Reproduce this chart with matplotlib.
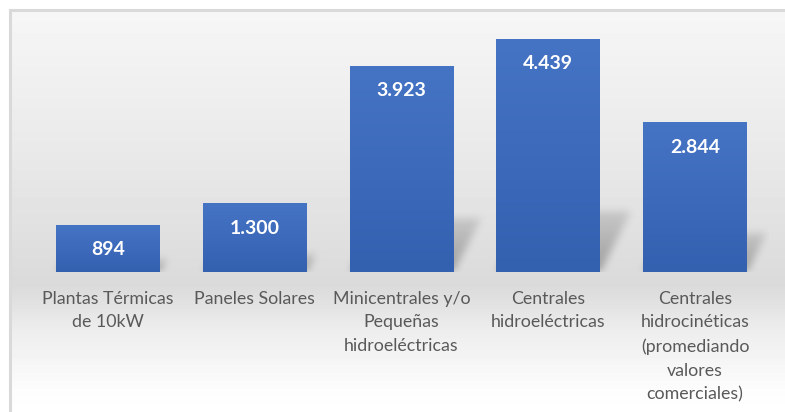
import matplotlib
matplotlib.use("Agg")
import matplotlib.pyplot as plt
import numpy as np
from matplotlib.colors import LinearSegmentedColormap
from matplotlib.patches import Rectangle

# datos
categorias = ["Plantas Térmicas\nde 10kW", "Paneles Solares",
              "Minicentrales y/o\nPequeñas\nhidroeléctricas",
              "Centrales\nhidroeléctricas",
              "Centrales\nhidrocinéticas\n(promediando\nvalores\ncomerciales)"]
valores = [894, 1300, 3923, 4439, 2844]
etiquetas = ["894", "1.300", "3.923", "4.439", "2.844"]

plt.rcParams['font.family'] = ['Lato', 'DejaVu Sans']

W, H = 785, 412
fig = plt.figure(figsize=(W / 100, H / 100), dpi=100)

# fondo con degradado
bg = fig.add_axes([12 / W, 0, 1 - 12 / W, 402 / H])
bg.set_axis_off()
rows = np.arange(402) + 10
gris = np.interp(rows, [10, 150, 285, 330, 390, 412], [0.965, 0.915, 0.855, 0.93, 0.99, 1.0])
bg.imshow(gris[:, None], cmap='gray', vmin=0, vmax=1, aspect='auto', extent=(0, 1, 0, 1))

# borde
fig.add_artist(Rectangle((10 / W, -0.1), 1.2, 0.1 + 402 / H, transform=fig.transFigure,
                         fill=False, edgecolor='#d9d9d9', lw=2.2))

ax = fig.add_axes([34.5 / W, (H - 272.5) / H, 734 / W, 262 / H])
ax.patch.set_alpha(0)
x = np.arange(len(valores))
w = 0.708

# sombra en perspectiva
nx, ny = 734, 262
gx = np.linspace(-0.5, 4.5, nx)
gy = np.linspace(0, 5000, ny)
X, Y = np.meshgrid(gx, gy)
sh = np.zeros_like(X)
k = 1.8e-4
for xi, v in zip(x, valores):
    hs = 0.26 * v
    s = k * Y
    m = (Y <= hs) & (X >= xi - w / 2 + s) & (X <= xi + w / 2 + s)
    sh = np.maximum(sh, m * (1 - 0.6 * Y / hs))


def blur(a, r):
    kern = np.ones(2 * r + 1) / (2 * r + 1)
    a = np.apply_along_axis(lambda c: np.convolve(c, kern, mode='same'), 0, a)
    a = np.apply_along_axis(lambda c: np.convolve(c, kern, mode='same'), 1, a)
    return a


sh = blur(blur(sh, 4), 4)
rgba = np.zeros((ny, nx, 4))
rgba[..., :3] = 0.38
rgba[..., 3] = 0.5 * sh
ax.imshow(rgba, origin='lower', extent=(-0.5, 4.5, 0, 5000), aspect='auto', zorder=1,
          interpolation='bilinear')

# barras con degradado
bars = ax.bar(x, valores, width=w, color='none', zorder=3)
cmap = LinearSegmentedColormap.from_list('azul', ['#3460b0', '#4674c5'])
grad = np.linspace(0, 1, 100)[:, None]
for b in bars:
    ax.imshow(grad, cmap=cmap, origin='lower', aspect='auto', zorder=3,
              extent=(b.get_x(), b.get_x() + b.get_width(), 0, b.get_height()))

for xi, v, lbl in zip(x, valores, etiquetas):
    ax.annotate(lbl, (xi, v), xytext=(0, -17.3), textcoords='offset points',
                ha='center', va='center', color='white', fontweight='bold', fontsize=14, zorder=5)

ax.set_xlim(-0.5, 4.5)
ax.set_ylim(0, 5000)
ax.set_xticks(x, categorias)
ax.set_yticks([])
ax.tick_params(axis='x', length=0, pad=13, labelsize=12.8, labelcolor='#595959')
for t in ax.get_xticklabels():
    t.set_linespacing(1.6)
for sp in ax.spines.values():
    sp.set_visible(False)

fig.savefig('out.png', dpi=100)
